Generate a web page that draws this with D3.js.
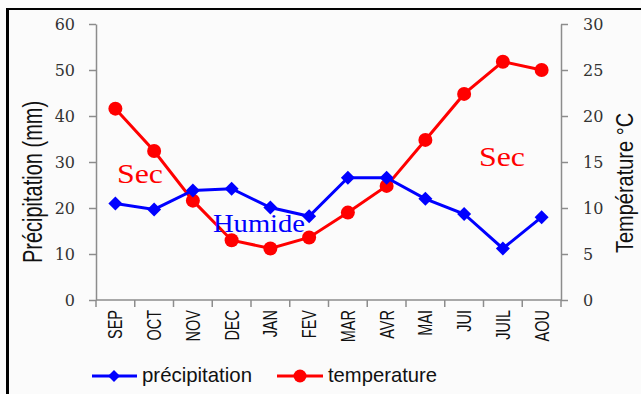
<!DOCTYPE html>
<html><head><meta charset="utf-8">
<script src="https://cdn.jsdelivr.net/npm/d3@7"></script>
<style>body{margin:0;background:#fff}svg{display:block}</style>
</head><body>
<script>
const months = ["SEP","OCT","NOV","DEC","JAN","FEV","MAR","AVR","MAI","JUI","JUIL","AOU"];
const precipitation = [21.0, 19.7, 23.8, 24.2, 20.1, 18.2, 26.6, 26.6, 22.0, 18.7, 11.2, 18.0];
const temperature = [20.8, 16.2, 10.8, 6.5, 5.6, 6.8, 9.5, 12.4, 17.4, 22.4, 25.9, 25.0];
const precipTicks = [0,10,20,30,40,50,60];
const tempTicks = [0,5,10,15,20,25,30];

const W=641,H=394;
const svg=d3.select("body").append("svg").attr("width",W).attr("height",H);
svg.append("rect").attr("width",W).attr("height",H).attr("fill","#fbfbfb");
// frame
svg.append("line").attr("x1",7.5).attr("x2",7.5).attr("y1",8).attr("y2",H).attr("stroke","#000").attr("stroke-width",3);
svg.append("line").attr("x1",6).attr("x2",W).attr("y1",9).attr("y2",9).attr("stroke","#000").attr("stroke-width",2);

const L=96,R=561,T=24,B=300;
const x=d3.scaleBand().domain(months).range([L,R]);
const yP=d3.scaleLinear().domain([0,60]).range([B,T]);
const yT=d3.scaleLinear().domain([0,30]).range([B,T]);
const axisColor="#8c8c8c";
const serifTick="'DejaVu Serif','Liberation Serif',serif";
const sans="'Liberation Sans',Arial,sans-serif";

function styleAxis(g){g.selectAll("path,line").attr("stroke",axisColor).attr("stroke-width",1.5);}
const gl=svg.append("g").attr("transform",`translate(${L},0)`).call(d3.axisLeft(yP).tickValues(precipTicks).tickSize(7).tickPadding(14).tickSizeOuter(0));
styleAxis(gl);
gl.selectAll("text").attr("font-family",serifTick).attr("font-size",16).attr("fill","#333");
const gr=svg.append("g").attr("transform",`translate(${R},0)`).call(d3.axisRight(yT).tickValues(tempTicks).tickSize(7).tickPadding(15).tickSizeOuter(0));
styleAxis(gr);
gr.selectAll("text").attr("font-family",serifTick).attr("font-size",16).attr("fill","#333");

// x axis with ticks at category boundaries
const gx=svg.append("g").attr("transform",`translate(0,${B})`);
gx.append("line").attr("x1",L).attr("x2",R).attr("stroke",axisColor).attr("stroke-width",1.5);
gx.selectAll("line.tk").data(d3.range(months.length+1)).join("line").attr("class","tk")
  .attr("x1",i=>L+i*x.step()).attr("x2",i=>L+i*x.step()).attr("y1",0).attr("y2",7)
  .attr("stroke",axisColor).attr("stroke-width",1.5);
gx.selectAll("text").data(months).join("text")
  .attr("transform",d=>`translate(${x(d)+x.bandwidth()/2+7},10) rotate(-90) scale(1,1.45)`)
  .attr("text-anchor","end").attr("font-family",sans).attr("font-size",14.5).attr("fill","#111")
  .text(d=>d);

// axis titles
svg.append("text").attr("transform",`translate(42,182) rotate(-90) scale(1,1.35)`).attr("text-anchor","middle")
  .attr("font-family",sans).attr("font-size",20).attr("fill","#111").text("Précipitation (mm)");
svg.append("text").attr("transform",`translate(633,183) rotate(-90) scale(1,1.15)`).attr("text-anchor","middle")
  .attr("font-family",sans).attr("font-size",20).attr("fill","#111").text("Température °C");

const cx=d=>x(d)+x.bandwidth()/2;
// temperature line
svg.append("path").datum(temperature).attr("fill","none").attr("stroke","#ff0000").attr("stroke-width",3)
  .attr("d",d3.line().x((d,i)=>cx(months[i])).y(d=>yT(d)));
svg.selectAll("circle.t").data(temperature).join("circle").attr("class","t")
  .attr("cx",(d,i)=>cx(months[i])).attr("cy",d=>yT(d)).attr("r",7).attr("fill","#ff0000");
// precipitation line
svg.append("path").datum(precipitation).attr("fill","none").attr("stroke","#0000ff").attr("stroke-width",3)
  .attr("d",d3.line().x((d,i)=>cx(months[i])).y(d=>yP(d)));
svg.selectAll("path.p").data(precipitation).join("path").attr("class","p")
  .attr("transform",(d,i)=>`translate(${cx(months[i])},${yP(d)})`)
  .attr("d","M0,-7L7,0L0,7L-7,0Z").attr("fill","#0000ff");

// annotations
const serif="'Liberation Serif','Times New Roman',serif";
svg.append("text").attr("x",117).attr("y",183).attr("font-family",serif).attr("font-size",27).attr("textLength",46).attr("lengthAdjust","spacingAndGlyphs").attr("fill","#ff0000").text("Sec");
svg.append("text").attr("x",479).attr("y",166).attr("font-family",serif).attr("font-size",28).attr("textLength",46).attr("lengthAdjust","spacingAndGlyphs").attr("fill","#ff0000").text("Sec");
svg.append("text").attr("x",213).attr("y",232).attr("font-family",serif).attr("font-size",25).attr("textLength",92).attr("lengthAdjust","spacingAndGlyphs").attr("fill","#0000ff").text("Humide");

// legend
const lg=svg.append("g");
lg.append("line").attr("x1",92).attr("x2",137).attr("y1",376).attr("y2",376).attr("stroke","#0000ff").attr("stroke-width",3);
lg.append("path").attr("transform","translate(114,376)").attr("d","M0,-6L6,0L0,6L-6,0Z").attr("fill","#0000ff");
lg.append("text").attr("x",142).attr("y",382).attr("font-family",sans).attr("font-size",21).attr("textLength",110).attr("lengthAdjust","spacingAndGlyphs").attr("fill","#111").text("précipitation");
lg.append("line").attr("x1",277).attr("x2",323).attr("y1",376).attr("y2",376).attr("stroke","#ff0000").attr("stroke-width",3);
lg.append("circle").attr("cx",300).attr("cy",376).attr("r",6.5).attr("fill","#ff0000");
lg.append("text").attr("x",328).attr("y",382).attr("font-family",sans).attr("font-size",21).attr("textLength",109).attr("lengthAdjust","spacingAndGlyphs").attr("fill","#111").text("temperature");
</script>
</body></html>
